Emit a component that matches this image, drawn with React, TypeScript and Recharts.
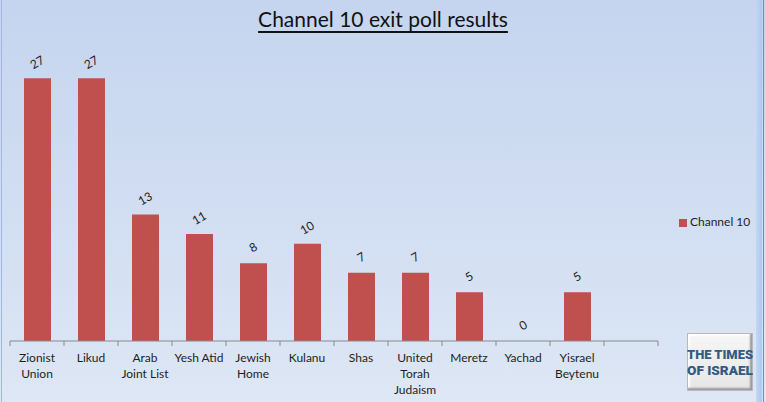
import React from "react";
import { ComposedChart, Bar, Line, XAxis, YAxis, LabelList } from "recharts";

const categories = [
  "Zionist\nUnion",
  "Likud",
  "Arab\nJoint List",
  "Yesh Atid",
  "Jewish\nHome",
  "Kulanu",
  "Shas",
  "United\nTorah\nJudaism",
  "Meretz",
  "Yachad",
  "Yisrael\nBeytenu",
  "",
];
const seats: (number | null)[] = [27, 27, 13, 11, 8, 10, 7, 7, 5, 0, 5, null];
const seriesName = "Channel 10";
const title = "Channel 10 exit poll results";

const data = categories.map((c, i) => ({ name: c, value: seats[i] }));

const BAR = "#C0504D";
const FONT = "Lato, 'Open Sans', sans-serif";
const HALF_BAND = 27;

const Tick = (props: any) => {
  const { x, y, payload, index } = props;
  const lines = String(payload.value).split("\n");
  return (
    <g>
      <line x1={x - HALF_BAND} y1={y} x2={x - HALF_BAND} y2={y + 5} stroke="#8a8a8a" />
      {index === categories.length - 1 && (
        <line x1={x + HALF_BAND} y1={y} x2={x + HALF_BAND} y2={y + 5} stroke="#8a8a8a" />
      )}
      {lines.map((l, i) => (
        <text
          key={i}
          x={x}
          y={y + 21 + i * 16}
          textAnchor="middle"
          fontSize={12}
          fontFamily={FONT}
          fill="#1e1e1e"
        >
          {l}
        </text>
      ))}
    </g>
  );
};

const PointLabel = (props: any) => {
  const { x, y, value } = props;
  if (value === null || value === undefined || y === null || y === undefined) return null;
  const cx = x;
  const cy = y - 16;
  return (
    <text
      x={cx}
      y={cy}
      textAnchor="middle"
      dominantBaseline="central"
      fontSize={12}
      fontFamily={FONT}
      fill="#1e1e1e"
      transform={`rotate(-30, ${cx}, ${cy})`}
    >
      {value}
    </text>
  );
};

export default function App() {
  return (
    <div
      style={{
        position: "absolute",
        left: 0,
        top: 0,
        width: 766,
        height: 402,
        overflow: "hidden",
        background: "linear-gradient(180deg, #c5d5ef 0%, #d2def2 55%, #dde7f5 100%)",
      }}
    >
      <div style={{ position: "absolute", left: 1, top: 0, width: 1, height: 402, background: "#9db8e2" }} />
      <div style={{ position: "absolute", left: 756, top: 0, width: 6, height: 402, background: "linear-gradient(90deg, #c5d6f0, #a9c9f2)" }} />
      <div style={{ position: "absolute", left: 763, top: 0, width: 1, height: 402, background: "#7f8a99" }} />
      <div
        style={{
          position: "absolute",
          left: 0,
          top: 6,
          width: 766,
          textAlign: "center",
          fontFamily: FONT,
          fontSize: 21,
          color: "#111",
          textDecoration: "underline",
          textDecorationThickness: 2,
          textUnderlineOffset: 4,
        }}
      >
        {title}
      </div>
      <ComposedChart
        width={766}
        height={402}
        data={data}
        margin={{ top: 49, right: 108, left: 10, bottom: 0 }}
        style={{ position: "absolute", left: 0, top: 0 }}
      >
        <YAxis hide domain={[0, 30]} />
        <XAxis
          dataKey="name"
          height={61}
          interval={0}
          tickLine={false}
          tickSize={0}
          tickMargin={0}
          axisLine={{ stroke: "#8a8a8a" }}
          tick={<Tick />}
        />
        <Bar dataKey="value" name={seriesName} fill={BAR} barSize={27} isAnimationActive={false} />
        <Line
          dataKey="value"
          stroke="none"
          dot={false}
          activeDot={false}
          legendType="none"
          isAnimationActive={false}
        >
          <LabelList dataKey="value" content={<PointLabel />} />
        </Line>
      </ComposedChart>
      <div style={{ position: "absolute", left: 679, top: 219, width: 8, height: 8, background: BAR }} />
      <div
        style={{
          position: "absolute",
          left: 690,
          top: 214,
          fontFamily: FONT,
          fontSize: 12,
          color: "#1e1e1e",
          whiteSpace: "nowrap",
        }}
      >
        {seriesName}
      </div>
      <div
        style={{
          position: "absolute",
          left: 687,
          top: 333,
          width: 64,
          height: 56,
          background: "linear-gradient(180deg, #f6f6f6, #e6e6e6)",
          border: "1px solid #b9b9b9",
          boxShadow: "inset -2px -2px 2px #9a9a9a, inset 2px 2px 2px #ffffff",
        }}
      />
      <svg width={766} height={402} style={{ position: "absolute", left: 0, top: 0 }}>
        <text x={687} y={359} fontFamily="Roboto, sans-serif" fontWeight={900} fontSize={13.5} fill="#2e5c86" textLength={66} lengthAdjust="spacingAndGlyphs">
          THE TIMES
        </text>
        <text x={687} y={375} fontFamily="Roboto, sans-serif" fontWeight={900} fontSize={13.5} fill="#2e5c86" textLength={66} lengthAdjust="spacingAndGlyphs">
          OF ISRAEL
        </text>
      </svg>
    </div>
  );
}
